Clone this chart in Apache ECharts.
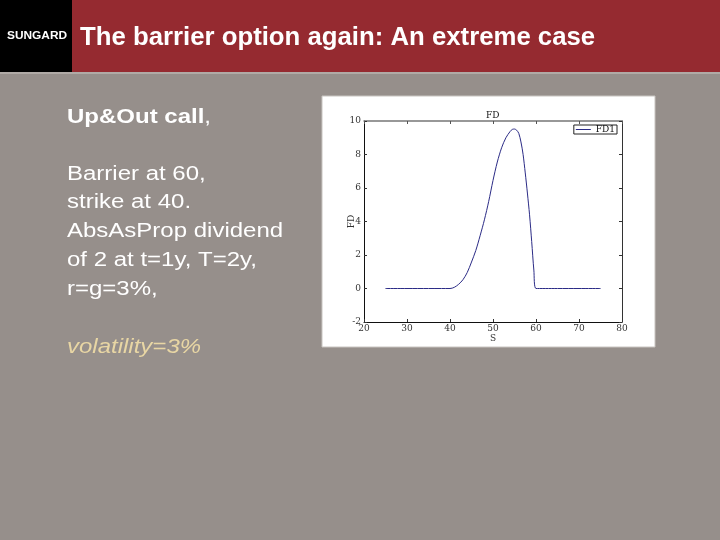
<!DOCTYPE html>
<html>
<head>
<meta charset="utf-8">
<style>html,body{margin:0;padding:0;background:#968f8b;}#c{width:720px;height:540px;}</style>
<script src="https://cdn.jsdelivr.net/npm/echarts@6/dist/echarts.min.js"></script>
</head>
<body>
<div id="c"></div>
<script>
// Data
const sValues  = [25, 30, 35, 38, 40, 41, 42, 43, 44, 45, 46, 47, 48, 49, 50, 51, 52, 53, 54, 54.5, 55, 55.5, 56, 56.5, 57, 57.5, 58, 58.5, 59, 59.5, 60, 65, 70, 75];
const fdValues = [0, 0, 0, 0, 0, 0.07, 0.25, 0.52, 0.95, 1.58, 2.27, 3.15, 4.1, 5.2, 6.45, 7.55, 8.4, 9.0, 9.38, 9.5, 9.52, 9.45, 9.26, 8.75, 8.0, 6.9, 5.7, 4.4, 2.8, 1.1, 0, 0, 0, 0];
const seriesName = 'FD1';
const chartTitle = 'FD';
const xName = 'S';
const yName = 'FD';
const slideTitle = 'The barrier option again: An extreme case';
const textLines = ['Barrier at 60,', 'strike at 40.', 'AbsAsProp dividend', 'of 2 at t=1y, T=2y,', 'r=g=3%,'];

const serif = '"DejaVu Serif","Liberation Serif",serif';
const sans = '"Liberation Sans",Arial,sans-serif';
const chart = echarts.init(document.getElementById('c'));

function txt(x, y, text, font, fill, sx, rich) {
  return {type:'text', z:-8, x:x, y:y, scaleX:sx || 1,
    style:{text:text, fill:fill, font:font, align:'left', verticalAlign:'middle', rich:rich}};
}
const graphics = [
  {type:'rect', z:-10, shape:{x:0,y:0,width:720,height:72}, style:{fill:'#952a30'}},
  {type:'rect', z:-10, shape:{x:0,y:72,width:720,height:2}, style:{fill:'#b0aaa6'}},
  {type:'rect', z:-9, shape:{x:0,y:0,width:72,height:72}, style:{fill:'#000'}},
  txt(7, 36, 'SUNGARD', 'bold 11px '+sans, '#fff', 1.08),
  txt(80, 38, slideTitle, 'bold 25px '+sans, '#fff', 1.03),
  txt(67, 117, '{b|Up&Out call}{n|,}', '20px '+sans, '#fff', 1.2,
      {b:{font:'bold 20px '+sans, fill:'#fff'}, n:{font:'20px '+sans, fill:'#fff'}}),
  txt(67, 347, 'volatility=3%', 'italic 20px '+sans, '#e8d6a4', 1.2),
  {type:'rect', z:-10, shape:{x:322,y:96,width:333,height:251}, style:{fill:'#fff', stroke:'#c8c4c0', lineWidth:1}}
];
textLines.forEach((t,i)=>{
  graphics.push(txt(67, 174 + i*28.8, t, '20px '+sans, '#fff', 1.2));
});

const axisLbl = {color:'#333', fontFamily:serif, fontSize:9};
chart.setOption({
  animation:false,
  graphic:graphics,
  title:{text:chartTitle, left:486, top:111, textStyle:{fontFamily:serif, fontSize:9, fontWeight:'normal', color:'#111'}, padding:0},
  legend:{data:[seriesName], right:103, top:125, itemWidth:15, itemHeight:1, itemGap:3, padding:[0,2], borderColor:'#222', borderWidth:1, borderRadius:0, backgroundColor:'#fff', icon:'rect',
    itemStyle:{color:'#2b2b86', borderWidth:0},
    textStyle:{fontFamily:serif, fontSize:9, color:'#111', padding:[0,0,0,0]}},
  grid:{left:364, top:121, width:258, height:201, show:false},
  xAxis:[
    {type:'value', min:20, max:80, interval:10, position:'bottom', name:xName, nameLocation:'middle', nameGap:7,
      nameTextStyle:{fontFamily:serif, fontSize:9, color:'#333'},
      axisLine:{onZero:false, lineStyle:{color:'#111', width:1}}, axisTick:{inside:true, length:3, lineStyle:{color:'#333'}},
      axisLabel:Object.assign({margin:2}, axisLbl), splitLine:{show:false}},
    {type:'value', min:20, max:80, interval:10, position:'top',
      axisLine:{onZero:false, lineStyle:{color:'#777', width:1.5}}, axisTick:{inside:true, length:3, lineStyle:{color:'#555'}},
      axisLabel:{show:false}, splitLine:{show:false}}
  ],
  yAxis:[
    {type:'value', min:-2, max:10, interval:2, position:'left', name:yName, nameLocation:'middle', nameGap:8, nameRotate:90, nameMoveOverlap:false,
      nameTextStyle:{fontFamily:serif, fontSize:9, color:'#333'},
      axisLine:{show:true, onZero:false, lineStyle:{color:'#111', width:1}}, axisTick:{show:true, inside:true, length:3, lineStyle:{color:'#333'}},
      axisLabel:Object.assign({margin:3}, axisLbl), splitLine:{show:false}},
    {type:'value', min:-2, max:10, interval:2, position:'right',
      axisLine:{show:true, onZero:false, lineStyle:{color:'#333', width:1}}, axisTick:{show:true, inside:true, length:3, lineStyle:{color:'#333'}},
      axisLabel:{show:false}, splitLine:{show:false}}
  ],
  series:[{
    name:seriesName, type:'line', xAxisIndex:0, yAxisIndex:0,
    data:sValues.map((s,i)=>[s, fdValues[i]]),
    showSymbol:false, smooth:0.3, lineStyle:{color:'#2b2b86', width:1}, itemStyle:{color:'#2b2b86'}
  }]
});
</script>
</body>
</html>
